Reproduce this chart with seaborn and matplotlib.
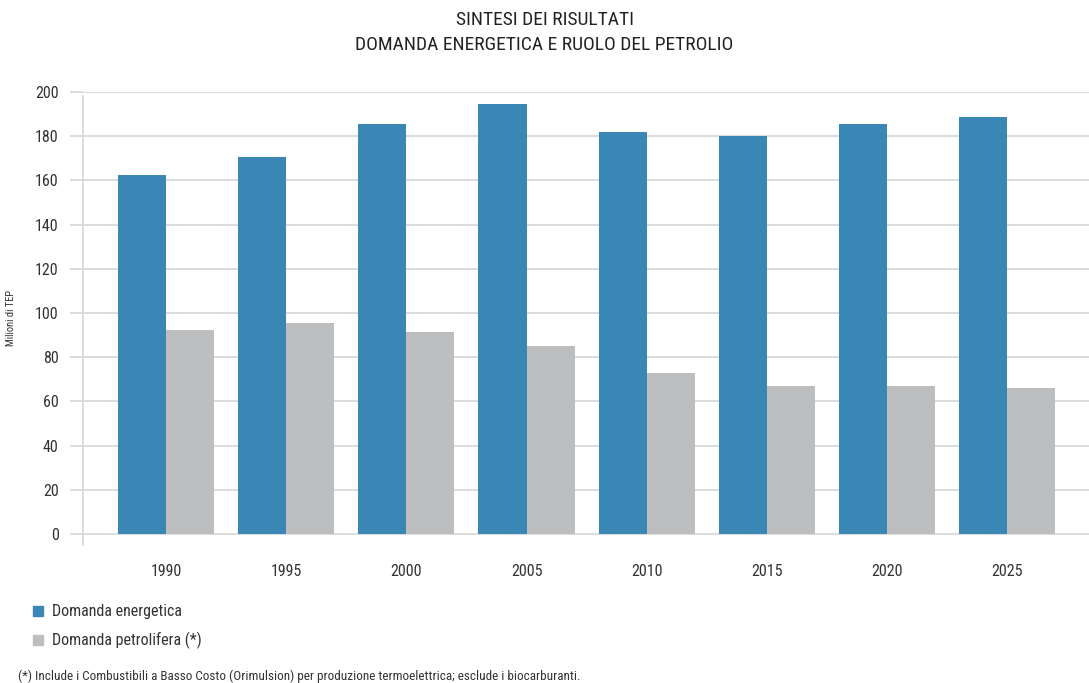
import matplotlib
matplotlib.use("Agg")
import matplotlib.pyplot as plt
import seaborn as sns
import pandas as pd
from matplotlib import font_manager
from matplotlib.lines import Line2D

years = ["1990", "1995", "2000", "2005", "2010", "2015", "2020", "2025"]
domanda_energetica = [162.5, 170.5, 185.5, 194.5, 182.0, 180.0, 185.5, 188.5]
domanda_petrolifera = [92.5, 95.5, 91.5, 85.0, 73.0, 67.0, 67.0, 66.0]
series_names = ["Domanda energetica", "Domanda petrolifera (*)"]
colors = ["#3a87b5", "#bcbec0"]

df = pd.DataFrame({
    "anno": years * 2,
    "valore": domanda_energetica + domanda_petrolifera,
    "serie": [series_names[0]] * len(years) + [series_names[1]] * len(years),
})

sns.set_theme(style="white")
names = {f.name for f in font_manager.fontManager.ttflist}
fam = []
for cand in ["Liberation Sans Narrow", "DejaVu Sans Condensed", "Roboto Condensed", "Open Sans Condensed"]:
    if cand in names:
        fam.append(cand)
fam += ["Roboto", "DejaVu Sans"]
plt.rcParams["font.family"] = fam
plt.rcParams["font.stretch"] = "condensed"

fig = plt.figure(figsize=(10.89, 6.83), dpi=100)
ax = fig.add_axes([83 / 1089, 1 - 545 / 683, 1 - 83 / 1089, (545 - 92) / 683])

sns.barplot(data=df, x="anno", y="valore", hue="serie", palette=colors,
            width=0.8, gap=0, saturation=1, ax=ax, legend=False, linewidth=0)

ax.set_ylim(-5, 200)
ax.set_xlim(-0.69, 7.68)
ax.set_yticks(range(0, 201, 20))
ax.yaxis.grid(True, color="#d6d6d6", linewidth=1.2)
ax.set_axisbelow(True)
for s in ["top", "right", "bottom"]:
    ax.spines[s].set_visible(False)
ax.spines["left"].set_color("#d6d6d6")
ax.spines["left"].set_linewidth(1.2)
ax.spines["left"].set_bounds(-5, 198)
ax.tick_params(axis="y", length=9.5, color="#d6d6d6", width=1.2, pad=8,
               labelsize=11.5, labelcolor="#333333", left=True)
ax.tick_params(axis="x", length=0, pad=14, labelsize=11.5, labelcolor="#333333")
ax.set_xlabel("")
ax.set_ylabel("Milioni di TEP", fontsize=7.5, color="#333333")
ax.yaxis.set_label_coords((16 - 83) / 1006, 0.5)

fig.text(0.5, 1 - 20 / 683, "SINTESI DEI RISULTATI", ha="center", va="center",
         fontsize=14, color="#222222")
fig.text(0.5, 1 - 45 / 683, "DOMANDA ENERGETICA E RUOLO DEL PETROLIO", ha="center",
         va="center", fontsize=14, color="#222222")

handles = [Line2D([], [], marker="s", linestyle="none", markersize=7,
                  markerfacecolor=c, markeredgecolor=c) for c in colors]
fig.legend(handles, series_names, loc="upper left",
           bbox_to_anchor=(14 / 1089, 1 - 590 / 683), frameon=False,
           fontsize=11.5, labelspacing=0.8, handletextpad=0.3, handlelength=1.2,
           labelcolor="#333333")

fig.text(18 / 1089, 1 - 676 / 683,
         "(*) Include i Combustibili a Basso Costo (Orimulsion) per produzione termoelettrica; esclude i biocarburanti.",
         ha="left", va="center", fontsize=9.5, color="#333333")

fig.savefig("out.png", dpi=100)
